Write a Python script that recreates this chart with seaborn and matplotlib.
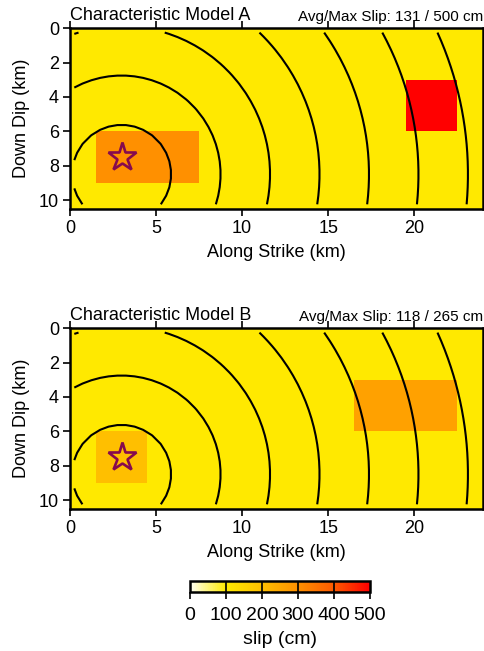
import numpy as np
import pandas as pd
import matplotlib
matplotlib.use("Agg")
import matplotlib.pyplot as plt
from matplotlib.colors import LinearSegmentedColormap
import seaborn as sns

plt.rcParams['font.family'] = ['Liberation Sans', 'DejaVu Sans']

# ---------------- data ----------------
cell_km = 1.5                      # subfault size (km)
along_strike_cells = [0.75 + 1.5 * i for i in range(16)]
down_dip_cells = [0.75 + 1.5 * j for j in range(7)]

slip_A = [
    [103, 103, 103, 103, 103, 103, 103, 103, 103, 103, 103, 103, 103, 103, 103, 103],
    [103, 103, 103, 103, 103, 103, 103, 103, 103, 103, 103, 103, 103, 103, 103, 103],
    [103, 103, 103, 103, 103, 103, 103, 103, 103, 103, 103, 103, 103, 500, 500, 103],
    [103, 103, 103, 103, 103, 103, 103, 103, 103, 103, 103, 103, 103, 500, 500, 103],
    [103, 300, 300, 300, 300, 103, 103, 103, 103, 103, 103, 103, 103, 103, 103, 103],
    [103, 300, 300, 300, 300, 103, 103, 103, 103, 103, 103, 103, 103, 103, 103, 103],
    [103, 103, 103, 103, 103, 103, 103, 103, 103, 103, 103, 103, 103, 103, 103, 103],
]
slip_B = [
    [103, 103, 103, 103, 103, 103, 103, 103, 103, 103, 103, 103, 103, 103, 103, 103],
    [103, 103, 103, 103, 103, 103, 103, 103, 103, 103, 103, 103, 103, 103, 103, 103],
    [103, 103, 103, 103, 103, 103, 103, 103, 103, 103, 103, 265, 265, 265, 265, 103],
    [103, 103, 103, 103, 103, 103, 103, 103, 103, 103, 103, 265, 265, 265, 265, 103],
    [103, 200, 200, 103, 103, 103, 103, 103, 103, 103, 103, 103, 103, 103, 103, 103],
    [103, 200, 200, 103, 103, 103, 103, 103, 103, 103, 103, 103, 103, 103, 103, 103],
    [103, 103, 103, 103, 103, 103, 103, 103, 103, 103, 103, 103, 103, 103, 103, 103],
]
titles = ["Characteristic Model A", "Characteristic Model B"]
slip_stats = ["Avg/Max Slip: 131 / 500 cm", "Avg/Max Slip: 118 / 265 cm"]

hypocenter = (3.0, 7.5)            # star (km along strike, km down dip)
rupture_origin = (3.0, 8.5)        # centre of rupture-front contours
rupture_velocity = 2.875           # km/s
contour_times = [1, 2, 3, 4, 5, 6, 7]

x_ticks = [0, 5, 10, 15, 20]
y_ticks = [0, 2, 4, 6, 8, 10]
cbar_ticks = [0, 100, 200, 300, 400, 500]

# ---------------- style ----------------
cmap = LinearSegmentedColormap.from_list(
    "slip",
    [(0.0, "#FFFFF2"), (0.2, "#FFEA00"), (0.4, "#FFBF00"),
     (0.6, "#FF9000"), (0.8, "#FF5A00"), (1.0, "#FF0000")])

fig = plt.figure(figsize=(4.84, 6.51), dpi=100)
W, H = 484, 651
axes_px = [(70, 28.3, 483, 208.6), (70, 328.3, 483, 508.6)]

# rupture-time field on a fine grid of points inside the fault
gx = np.arange(0.25, 24.0, 0.5)
gy = np.arange(0.25, 10.5, 0.5)
GX, GY = np.meshgrid(gx, gy)
T = np.hypot(GX - rupture_origin[0], GY - rupture_origin[1]) / rupture_velocity

mappable = None
for k, (slip, title, stat) in enumerate(zip([slip_A, slip_B], titles, slip_stats)):
    l, t, r, b = axes_px[k]
    ax = fig.add_axes([l / W, 1 - b / H, (r - l) / W, (b - t) / H])
    df = pd.DataFrame(slip, index=down_dip_cells, columns=along_strike_cells)
    sns.heatmap(df, ax=ax, cmap=cmap, vmin=0, vmax=500, cbar=False,
                xticklabels=False, yticklabels=False)
    mappable = ax.collections[0]
    ax.contour(GX / cell_km, GY / cell_km, T, levels=contour_times,
               colors="black", linewidths=1.5)
    ax.plot(hypocenter[0] / cell_km, hypocenter[1] / cell_km, marker="*",
            markersize=21, markerfacecolor="none", markeredgecolor="#860A4E",
            markeredgewidth=1.9, linestyle="none")
    ax.set_xlim(0, 16)
    ax.set_ylim(7, 0)
    ax.set_xticks([v / cell_km for v in x_ticks])
    ax.set_xticklabels([str(v) for v in x_ticks], rotation=0)
    ax.set_yticks([v / cell_km for v in y_ticks])
    ax.set_yticklabels([str(v) for v in y_ticks], rotation=0)
    ax.tick_params(axis="both", direction="out", length=5, width=1.2,
                   labelsize=13, pad=3, colors="black")
    ax.tick_params(axis="x", top=True, labeltop=False)
    for s in ax.spines.values():
        s.set_visible(True)
        s.set_linewidth(1.8)
        s.set_color("black")
    ax.set_xlabel("Along Strike (km)", fontsize=13, labelpad=5)
    ax.set_ylabel("Down Dip (km)", fontsize=13, labelpad=6)
    ax.text(0.0, 1.025, title, transform=ax.transAxes, ha="left", va="bottom",
            fontsize=13)
    ax.text(1.0, 1.025, stat, transform=ax.transAxes, ha="right", va="bottom",
            fontsize=11)

# colorbar
cl, ct, cr, cb = 190, 581, 370, 591.5
cax = fig.add_axes([cl / W, 1 - cb / H, (cr - cl) / W, (cb - ct) / H])
cbar = fig.colorbar(mappable, cax=cax, orientation="horizontal", ticks=cbar_ticks)
cbar.outline.set_linewidth(1.8)
for v in cbar_ticks[1:-1]:
    cax.axvline(v, color="black", linewidth=1.2)
cax.tick_params(direction="out", length=5, width=1.2, labelsize=14, pad=6)
cbar.set_label("slip (cm)", fontsize=14, labelpad=5)

fig.savefig("out.png", dpi=100)
